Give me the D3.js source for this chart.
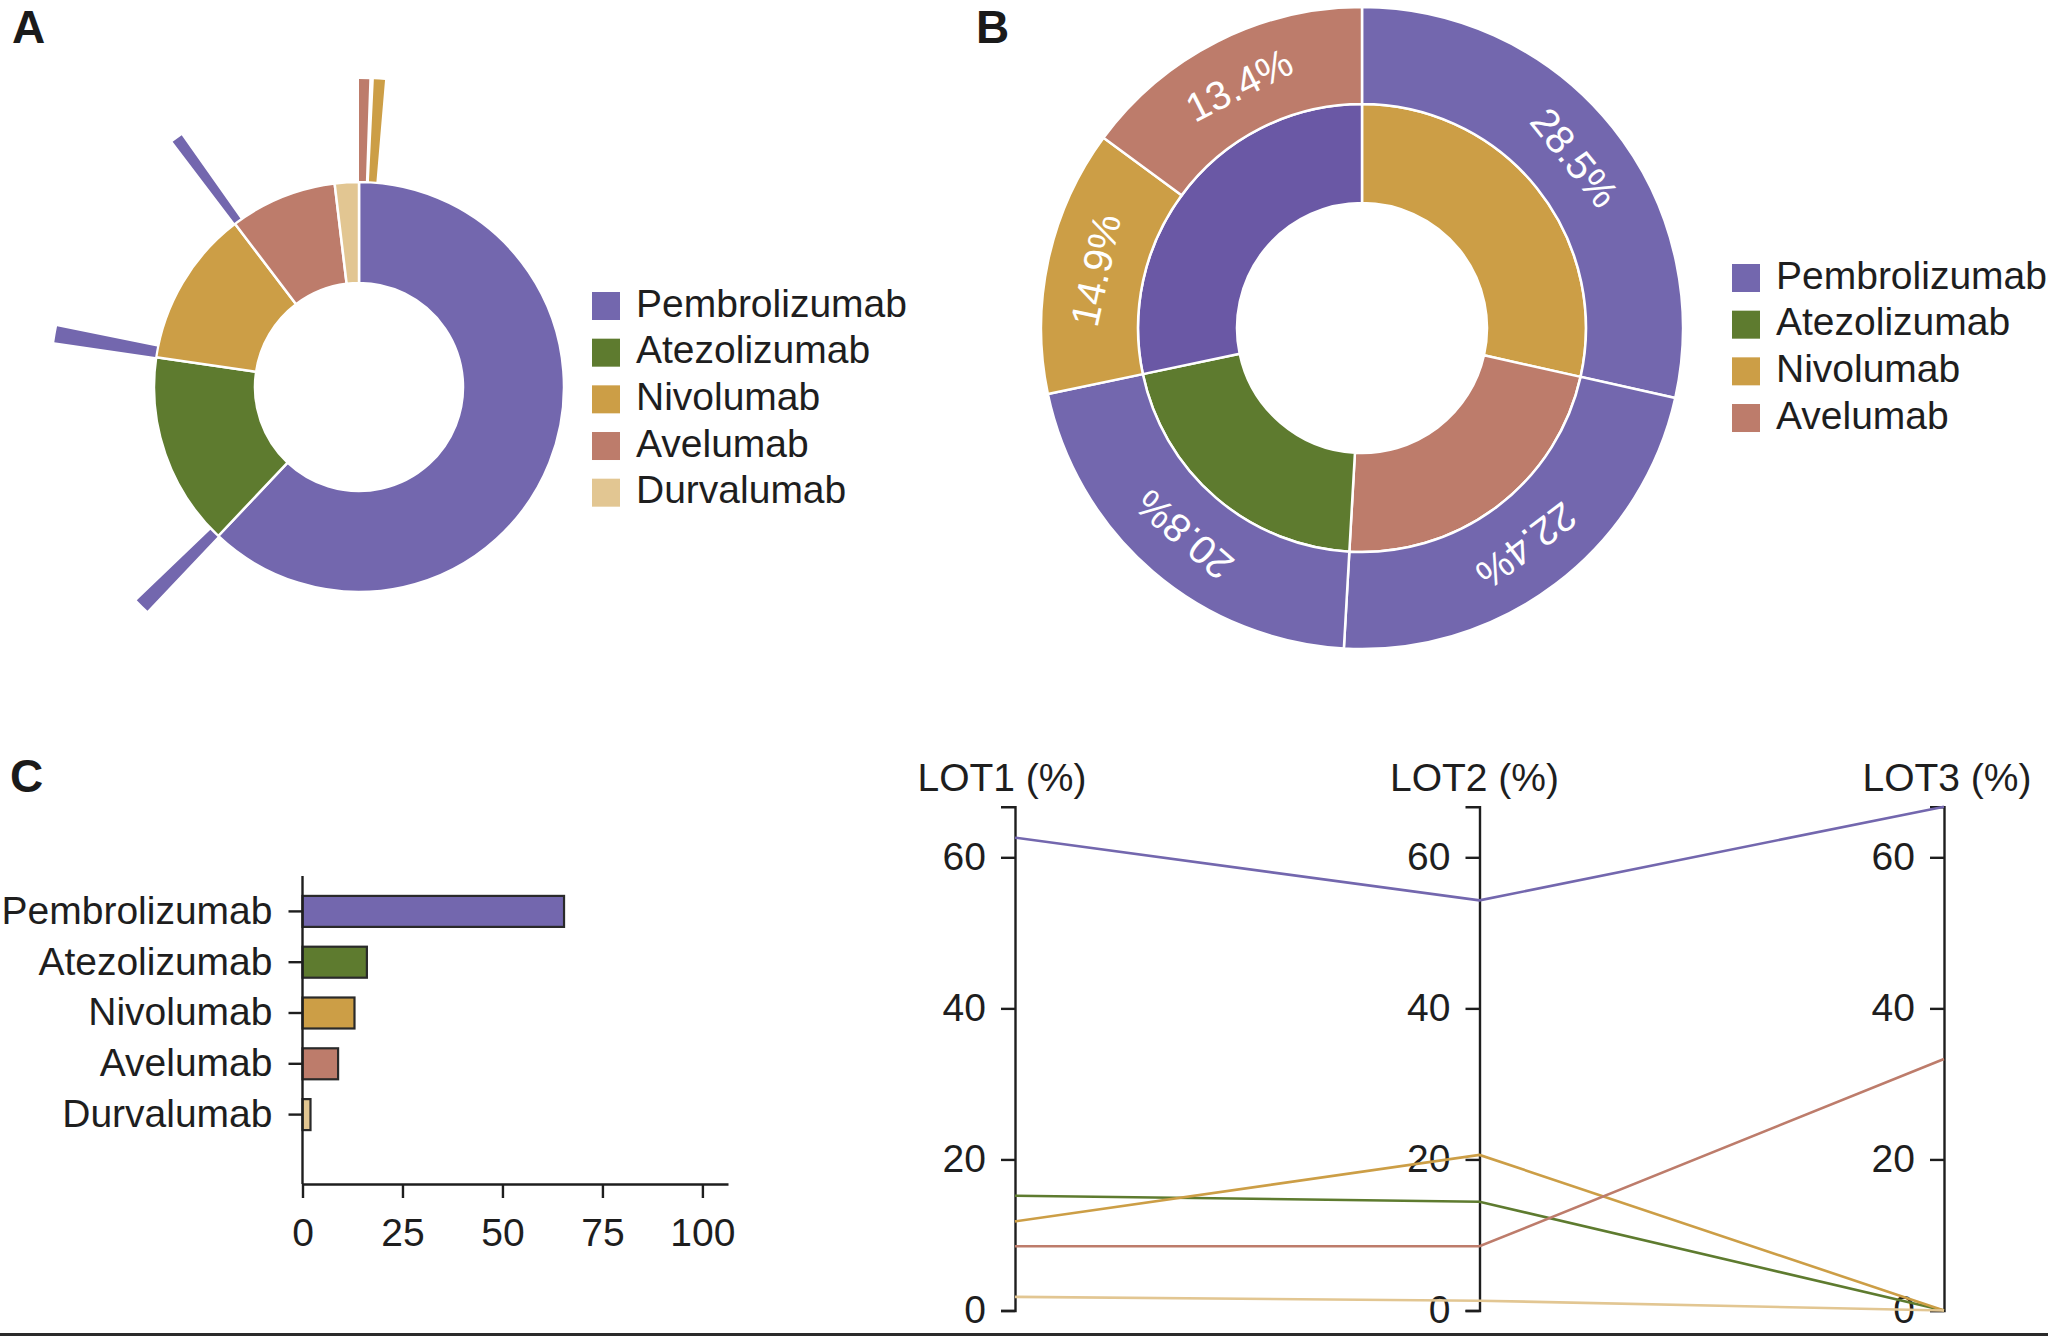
<!DOCTYPE html>
<html>
<head>
<meta charset="utf-8">
<script src="https://cdn.jsdelivr.net/npm/d3@7"></script>
<style>
body{margin:0;background:#fff;}
text{font-family:"Liberation Sans",Arial,sans-serif;}
</style>
</head>
<body>
<div id="fig"></div>
<script>
var W=2048, H=1336;

//Drugs, colours and share of patients (ring A, bars C)
var drugs=["Pembrolizumab","Atezolizumab","Nivolumab","Avelumab","Durvalumab"];
var drugColors=["#7367ae","#5e7b2f","#cc9e46","#bd7c6b","#e2c692"];
var drugPct=[65.4,16.1,13.0,8.9,2.0];

//Switch spikes around ring A (size in ring units)
var spikeFrom=["Pembrolizumab","Pembrolizumab","Atezolizumab","Nivolumab","Avelumab"];
var spikeTo=["Avelumab","Nivolumab","Pembrolizumab","Pembrolizumab","Pembrolizumab"];
var spikeSize=[0.56,0.61,0.82,0.88,0.61];

//Panel B: switched from (inner ring) -> to (outer ring)
var switchFrom=["Nivolumab","Avelumab","Atezolizumab","Pembrolizumab","Pembrolizumab"];
var switchTo=["Pembrolizumab","Pembrolizumab","Pembrolizumab","Nivolumab","Avelumab"];
var switchShare=[28.5,22.4,20.8,13.4,14.9];
var switchLabel=["28.5%","22.4%","20.8%","14.9%","13.4%"];
var legendB=["Pembrolizumab","Atezolizumab","Nivolumab","Avelumab"];

//Panel C right: share by line of therapy
var lots=["LOT1 (%)","LOT2 (%)","LOT3 (%)"];
var lotPembro=[62.6,54.3,66.7];
var lotAtezo=[15.2,14.4,0];
var lotNivo=[11.8,20.6,0];
var lotAvel=[8.5,8.5,33.3];
var lotDurv=[1.8,1.3,0];
var lotMax=66.7;
var lotTicks=[0,20,40,60];

//Panel C left axis
var barTicks=[0,25,50,75,100];
var barMax=106.4;

var color=d3.scaleOrdinal().domain(drugs).range(drugColors);
var innerColor=function(name) {return name=="Pembrolizumab" ? "#6a58a5" : color(name);};
var ink="#1e1e1e";

var svg=d3.select("#fig").append("svg").attr("width",W).attr("height",H);

//Panel letters
[["A",12,43],["B",976,43],["C",10,792]].forEach(function(p) {
    svg.append("text").attr("x",p[1]).attr("y",p[2]).text(p[0])
       .attr("font-size",46).attr("font-weight","bold").attr("fill","#1a1a1a");
});

//---------- A: ring with switch spikes ----------
var gA=svg.append("g").attr("transform","translate(359,387)");
var arcsA=d3.pie().sort(null).value(function(d) {return d.v;})
            (drugs.map(function(d,i) {return {name:d,v:drugPct[i]};}));
var arcA=d3.arc().innerRadius(104).outerRadius(205);
gA.selectAll("path.seg").data(arcsA).enter().append("path")
  .attr("class","seg")
  .attr("d",arcA)
  .attr("fill",function(d) {return color(d.data.name);})
  .attr("stroke","#fff").attr("stroke-width",2.5);

var angleA=d3.scaleLinear().domain([0,d3.sum(drugPct)]).range([0,2*Math.PI]);
var startOf={}, used={};
arcsA.forEach(function(a) {startOf[a.data.name]=a.startAngle;});
var spikes=spikeFrom.map(function(f,i) {
    var o=used[f]||0;
    var s=startOf[f]+angleA(o);
    used[f]=o+spikeSize[i]+0.25;
    return {to:spikeTo[i],startAngle:s,endAngle:s+angleA(spikeSize[i])};
});
var arcSpike=d3.arc().innerRadius(206).outerRadius(308);
gA.selectAll("path.spike").data(spikes).enter().append("path")
  .attr("class","spike")
  .attr("d",arcSpike)
  .attr("fill",function(d) {return color(d.to);});

//Legend A
var legA=svg.append("g").attr("transform","translate(592,292)");
drugs.forEach(function(d,i) {
    legA.append("rect").attr("x",0).attr("y",i*46.67).attr("width",28).attr("height",28).attr("fill",color(d));
    legA.append("text").attr("x",44).attr("y",i*46.67+24.5).text(d).attr("font-size",39).attr("fill",ink);
});

//---------- B: switch from / to ----------
var gB=svg.append("g").attr("transform","translate(1362,328)");
var outerArcs=d3.pie().sort(null)(switchShare);
var fromGroups=d3.groups(switchFrom.map(function(f,i) {return {f:f,v:switchShare[i]};}),function(d) {return d.f;});
var innerArcs=d3.pie().sort(null).value(function(g) {return d3.sum(g[1],function(d) {return d.v;});})(fromGroups);
var arcIn=d3.arc().innerRadius(125).outerRadius(224);
var arcOut=d3.arc().innerRadius(224).outerRadius(321);

gB.selectAll("path.in").data(innerArcs).enter().append("path")
  .attr("class","in")
  .attr("d",arcIn)
  .attr("fill",function(d) {return innerColor(d.data[0]);})
  .attr("stroke","#fff").attr("stroke-width",2.5);
gB.selectAll("path.out").data(outerArcs).enter().append("path")
  .attr("class","out")
  .attr("d",arcOut)
  .attr("fill",function(d,i) {return color(switchTo[i]);})
  .attr("stroke","#fff").attr("stroke-width",2.5);
gB.selectAll("text.lab").data(outerArcs).enter().append("text")
  .attr("class","lab")
  .attr("transform",function(d) {
      var c=arcOut.centroid(d);
      var a=(d.startAngle+d.endAngle)/2*180/Math.PI;
      return "translate("+c[0]+","+c[1]+") rotate("+a+")";})
  .attr("text-anchor","middle").attr("dominant-baseline","central")
  .attr("font-size",40).attr("fill","#fff")
  .text(function(d,i) {return switchLabel[i];});

//Legend B
var legB=svg.append("g").attr("transform","translate(1732,264)");
legendB.forEach(function(d,i) {
    legB.append("rect").attr("x",0).attr("y",i*46.67).attr("width",28).attr("height",28).attr("fill",color(d));
    legB.append("text").attr("x",44).attr("y",i*46.67+24.5).text(d).attr("font-size",39).attr("fill",ink);
});

//---------- C left: bar chart ----------
var xBar=d3.scaleLinear().domain([0,barMax]).range([302.5,728]);
var yBar=d3.scaleBand().domain(drugs).range([886,1140]).paddingInner(0.39).paddingOuter(0.195);

svg.append("g").selectAll("rect").data(drugs).enter().append("rect")
   .attr("x",xBar(0))
   .attr("y",function(d) {return yBar(d);})
   .attr("width",function(d,i) {return xBar(drugPct[i])-xBar(0);})
   .attr("height",yBar.bandwidth())
   .attr("fill",function(d) {return color(d);})
   .attr("stroke","#2a2a2a").attr("stroke-width",2.2);

var styleAxis=function(g) {
    g.attr("font-family","'Liberation Sans',Arial,sans-serif").attr("font-size",39);
    g.selectAll("path,line").attr("stroke",ink).attr("stroke-width",2.4);
    g.selectAll("text").attr("fill",ink);
};
var yAxisBar=svg.append("g").attr("transform","translate("+xBar(0)+",0)")
   .call(d3.axisLeft(yBar).tickSize(14).tickPadding(16));
yAxisBar.select(".domain").remove();
styleAxis(yAxisBar);
svg.append("line").attr("x1",xBar(0)).attr("x2",xBar(0)).attr("y1",876).attr("y2",1184)
   .attr("stroke",ink).attr("stroke-width",2.4);
var xAxisBar=svg.append("g").attr("transform","translate(0,1184)")
   .call(d3.axisBottom(xBar).tickValues(barTicks).tickSize(14).tickSizeOuter(0).tickPadding(20));
styleAxis(xAxisBar);

//---------- C right: parallel axes by line of therapy ----------
var xLot=d3.scalePoint().domain(lots).range([1015,1944]);
var xHead=d3.scalePoint().domain(lots).range([1002,1947]);
var yLot=d3.scaleLinear().domain([0,lotMax]).range([1310.5,806.7]);
var lotSeries=[lotPembro,lotAtezo,lotNivo,lotAvel,lotDurv];
var lotLine=d3.line().x(function(d,i) {return xLot(lots[i]);}).y(function(d) {return yLot(d);});

lots.forEach(function(l) {
    var g=svg.append("g").attr("transform","translate("+xLot(l)+",0)")
             .call(d3.axisLeft(yLot).tickValues(lotTicks).tickSize(14).tickPadding(15));
    styleAxis(g);
    svg.append("text").attr("x",xHead(l)).attr("y",791).attr("text-anchor","middle")
       .attr("font-size",39).attr("fill",ink).text(l);
});

svg.append("g").selectAll("path").data(lotSeries).enter().append("path")
   .attr("d",lotLine)
   .attr("fill","none")
   .attr("stroke",function(d,i) {return drugColors[i];})
   .attr("stroke-width",2.6);

//Bottom frame line
svg.append("rect").attr("x",0).attr("y",1333).attr("width",W).attr("height",3).attr("fill","#2a2a2a");
</script>
</body>
</html>
